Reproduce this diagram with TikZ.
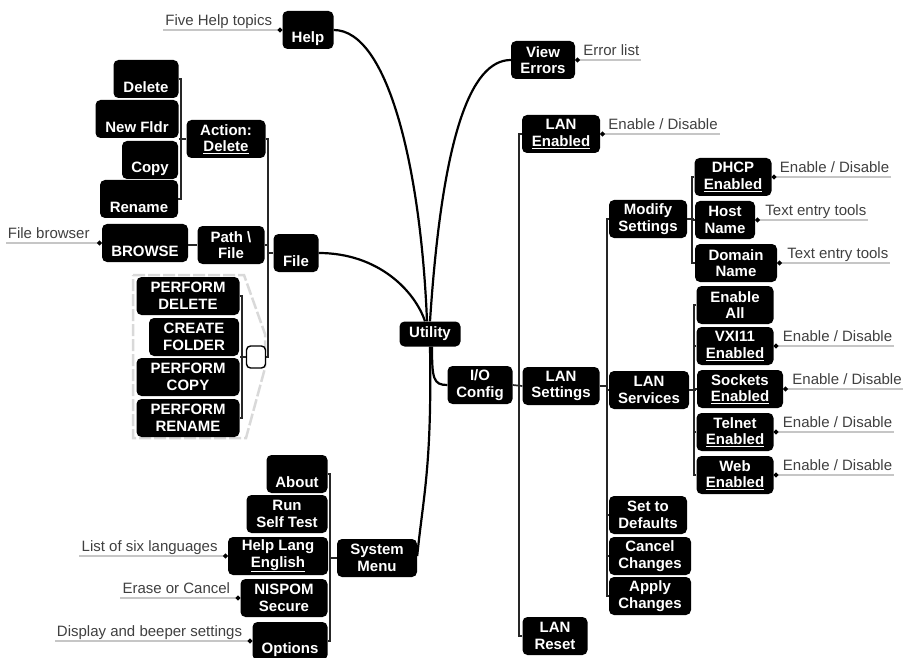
\documentclass[tikz,border=0pt]{standalone}
\usepackage{fontspec}
\setmainfont{Liberation Sans}
\usetikzlibrary{arrows.meta}

\tikzset{
  box/.style={fill=black, text=white, rounded corners=5pt, align=center,
    font=\bfseries\fontsize{15}{16.5}\selectfont, inner xsep=4pt, inner ysep=2pt,
    minimum height=38pt},
  joint/.style={draw=black, fill=white, line width=1.4pt, rounded corners=4pt,
    minimum width=19pt, minimum height=22pt, inner sep=0pt},
  note/.style={text=black!75, font=\fontsize{15}{17}\selectfont, inner xsep=2pt,
    inner ysep=1pt, text height=11pt, text depth=3pt},
  noteline/.style={gray!45, line width=1.6pt, {Circle[length=4.5pt,color=black]}-},
  bus/.style={line width=1.7pt, black!85},
  link/.style={line width=2.2pt},
  group/.style={gray!30, line width=2.5pt, dash pattern=on 12pt off 3pt}
}
\newcommand{\lowline}[1]{\strut\\#1}

\begin{document}
\begin{tikzpicture}[x=1pt, y=-1pt]
\useasboundingbox (0,0) rectangle (903,658);

% dashed frame round the PERFORM commands
\draw[group] (133,275) -- (244,275) -- (265,334) -- (265,368) -- (246,438) -- (133,438) -- cycle;

% centre and top
\node[box, minimum height=25pt, minimum width=61pt] (utility) at (430,334) {Utility};
\node[box, minimum width=51pt] (help) at (308,30) {\lowline{Help}};
\node[box, minimum width=64pt] (viewerr) at (543,60) {View\\Errors};

% I/O Config branch
\node[box, minimum width=65pt] (iocfg) at (480,385) {I/O\\Config};
\node[box, minimum width=78pt] (lanen) at (561,134) {LAN\\\underline{Enabled}};
\node[box, minimum width=77pt] (lanset) at (561,386) {LAN\\Settings};
\node[box, minimum width=65pt] (lanreset) at (555,636) {LAN\\Reset};

\node[box, minimum width=78pt] (modset) at (648,219) {Modify\\Settings};
\node[box, minimum width=80pt] (lanserv) at (649,390) {LAN\\Services};
\node[box, minimum width=78pt] (setdef) at (648,515) {Set to\\Defaults};
\node[box, minimum width=82pt] (cancel) at (650,556) {Cancel\\Changes};
\node[box, minimum width=82pt] (apply) at (650,596) {Apply\\Changes};

\node[box, minimum width=77pt] (dhcp) at (733,177) {DHCP\\\underline{Enabled}};
\node[box, minimum width=60pt] (host) at (725,220) {Host\\Name};
\node[box, minimum width=82pt] (domain) at (736,263) {Domain\\Name};

\node[box, minimum width=77pt] (enall) at (735,305) {Enable\\All};
\node[box, minimum width=77pt] (vxi) at (735,346) {VXI11\\\underline{Enabled}};
\node[box, minimum width=86pt] (sockets) at (740,389) {Sockets\\\underline{Enabled}};
\node[box, minimum width=77pt] (telnet) at (735,432) {Telnet\\\underline{Enabled}};
\node[box, minimum width=77pt] (web) at (735,475) {Web\\\underline{Enabled}};

% File branch
\node[box, minimum width=45pt] (file) at (296,253) {\lowline{File}};
\node[box, minimum width=67pt] (path) at (231,245) {Path \textbackslash\\File};
\node[box, minimum width=79pt] (action) at (226,139) {Action:\\\underline{Delete}};
\node[box, minimum width=65pt] (delete) at (146,79) {\lowline{Delete}};
\node[box, minimum width=83pt] (newfldr) at (137,119) {\lowline{New Fldr}};
\node[box, minimum width=56pt] (copy) at (150,160) {\lowline{Copy}};
\node[box, minimum width=78pt] (rename) at (139,199) {\lowline{Rename}};
\node[box, minimum width=86pt] (browse) at (145,243) {\lowline{BROWSE}};
\node[joint] (joint) at (256,357) {};
\node[box, minimum width=103pt] (pdelete) at (188,296) {PERFORM\\DELETE};
\node[box, minimum width=90pt] (cfolder) at (194,337) {CREATE\\FOLDER};
\node[box, minimum width=103pt] (pcopy) at (188,377) {PERFORM\\COPY};
\node[box, minimum width=103pt] (prename) at (188,418) {PERFORM\\RENAME};

% System Menu branch
\node[box, minimum width=80pt] (sysmenu) at (377,558) {System\\Menu};
\node[box, minimum width=61pt] (about) at (297,474) {\lowline{About}};
\node[box, minimum width=81pt] (selftest) at (287,514) {Run\\Self Test};
\node[box, minimum width=100pt] (helplang) at (278,556) {Help Lang\\\underline{English}};
\node[box, minimum width=87pt] (nispom) at (284,598) {NISPOM\\Secure};
\node[box, minimum width=75pt] (options) at (290,641) {\lowline{Options}};

% main links
\draw[link] (help.east) .. controls +(55,0) and +(-6,-150) .. ([xshift=-3pt]utility.north);
\draw[link] (viewerr.west) .. controls +(-41,0) and +(12,-182) .. (utility.north);
\draw[link] (file.east) .. controls +(60,0) and +(-10,-30) .. ([xshift=-5pt]utility.north);
\draw[link] ([xshift=2pt]utility.south) .. controls +(0,32) and +(-14,0) .. (iocfg.west);
\draw[link] (utility.south) .. controls +(2,120) and +(6,-60) .. ([yshift=2pt]sysmenu.east);

% buses
\draw[bus] (iocfg.east) -- (lanset.west);
\draw[bus] (lanen.west) -- ++(-3,0) |- (lanreset.west);
\draw[bus] (lanset.east) -- ++(7,0);
\draw[bus] (modset.west) -- ++(-2,0) |- (apply.west);
\foreach \n in {lanserv,setdef,cancel}
  \draw[bus] (\n.west) -- ++(-3,0);
\draw[bus] (modset.east) -- ++(7,0);
\draw[bus] (dhcp.west) -- ++(-2,0) |- (domain.west);
\draw[bus] (host.west) -- ++(-3,0);
\draw[bus] (lanserv.east) -- ++(7,0);
\draw[bus] (enall.west) -- ++(-2,0) |- (web.west);
\foreach \n in {vxi,sockets,telnet}
  \draw[bus] (\n.west) -- ++(-3,0);

\draw[bus] (action.west) -- ++(-7,0);
\draw[bus] (delete.east) -- ++(2,0) |- (rename.east);
\draw[bus] (action.east) -- ++(2,0) |- (joint.east);
\draw[bus] (file.west) -- ++(-6,0);
\draw[bus] (path.east) -- ++(3,0);
\draw[bus] (path.west) -- (path.west -| browse.east);
\draw[bus] (joint.west) -- ++(-6,0);
\draw[bus] (pdelete.east) -- ++(2,0) |- (prename.east);
\draw[bus] (sysmenu.west) -- ++(-7,0);
\draw[bus] (about.east) -- ++(2,0) |- (options.east);

% notes
\node[note, anchor=south east] (helpn) at ([xshift=-8pt]help.west) {Five Help topics};
\draw[noteline] (help.west) -- (helpn.south west);
\node[note, anchor=south west] (viewerrn) at ([xshift=6pt]viewerr.east) {Error list};
\draw[noteline] (viewerr.east) -- (viewerrn.south east);
\node[note, anchor=south west] (lanenn) at ([xshift=6pt]lanen.east) {Enable / Disable};
\draw[noteline] (lanen.east) -- (lanenn.south east);
\node[note, anchor=south west] (dhcpn) at ([xshift=6pt]dhcp.east) {Enable / Disable};
\draw[noteline] (dhcp.east) -- (dhcpn.south east);
\node[note, anchor=south west] (hostn) at ([xshift=8pt]host.east) {Text entry tools};
\draw[noteline] (host.east) -- (hostn.south east);
\node[note, anchor=south west] (domainn) at ([xshift=8pt]domain.east) {Text entry tools};
\draw[noteline] (domain.east) -- (domainn.south east);
\foreach \n in {vxi,sockets,telnet,web}{
  \node[note, anchor=south west] (\n n) at ([xshift=7pt]\n.east) {Enable / Disable};
  \draw[noteline] (\n.east) -- (\n n.south east);
}
\node[note, anchor=south east] (browsen) at ([xshift=-10pt]browse.west) {File browser};
\draw[noteline] (browse.west) -- (browsen.south west);
\node[note, anchor=south east] (helplangn) at ([xshift=-8pt]helplang.west) {List of six languages};
\draw[noteline] (helplang.west) -- (helplangn.south west);
\node[note, anchor=south east] (nispomn) at ([xshift=-8pt]nispom.west) {Erase or Cancel};
\draw[noteline] (nispom.west) -- (nispomn.south west);
\node[note, anchor=south east] (optionsn) at ([xshift=-8pt]options.west) {Display and beeper settings};
\draw[noteline] (options.west) -- (optionsn.south west);
\end{tikzpicture}
\end{document}
